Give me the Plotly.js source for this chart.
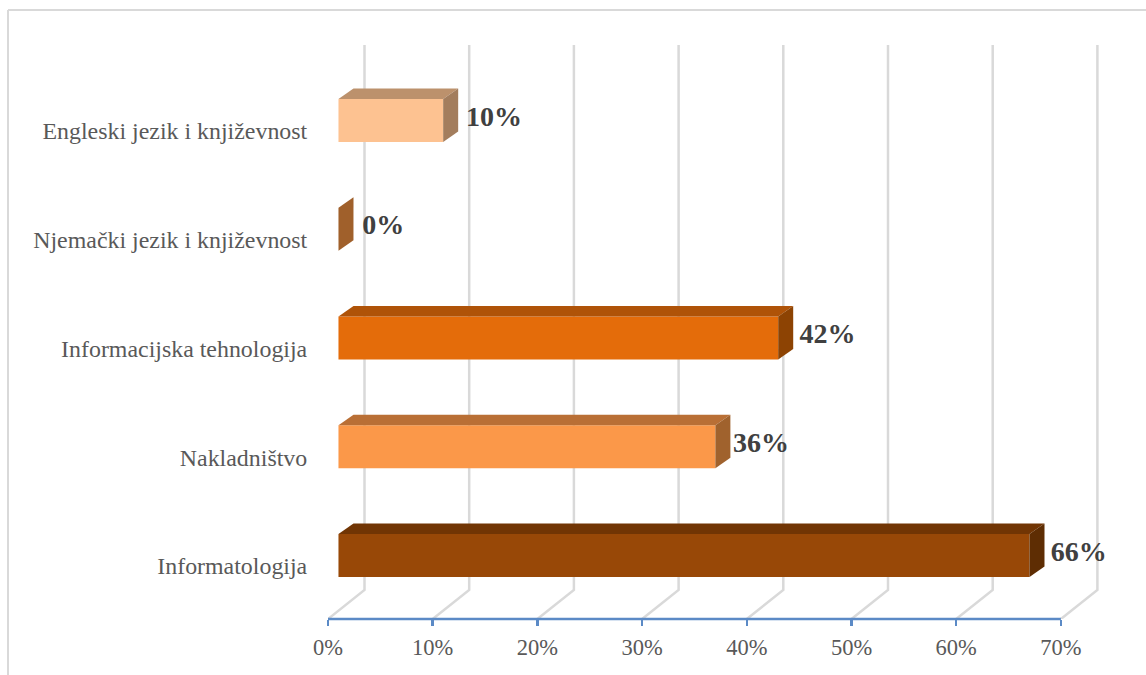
<!DOCTYPE html>
<html>
<head>
<meta charset="utf-8">
<script src="https://cdn.plot.ly/plotly-3.0.1.min.js"></script>
<style>html,body{margin:0;padding:0;background:#fff}#chart{width:1146px;height:675px}</style>
</head>
<body>
<div id="chart"></div>
<script>
// Data (bottom to top)
const categories = ["Informatologija", "Nakladništvo", "Informacijska tehnologija", "Njemački jezik i književnost", "Engleski jezik i književnost"];
const values = [66, 36, 42, 0, 10];
const valueLabels = ["66%", "36%", "42%", "0%", "10%"];
const tickVals = [0, 10, 20, 30, 40, 50, 60, 70];
const tickLabels = ["0%", "10%", "20%", "30%", "40%", "50%", "60%", "70%"];

// Styles
const frontColors = ["#984807", "#FB9849", "#E46C0A", "#A5632B", "#FDC291"];
const topColors = ["#713504", "#B96F35", "#AF5308", "#A5632B", "#BC916C"];
const sideColors = ["#5E2D03", "#A0622D", "#8D4303", "#A0602B", "#A37D5D"];
const labelNudge = [0.6, 0.25, 0.6, 0.85, 0.75];

// Geometry in axis units (1 x unit = 10.47 px, 1 y unit = 108.75 px)
const ML = 328, MT = 45, PW = 772, PH = 574;
const xMax = PW / 10.47, yUnit = 108.75;
const yMin = -(619 - 566) / yUnit, yMax = yMin + PH / yUnit;
const barBase = 1.0, barLift = 10.5 / yUnit, barH = 43 / yUnit;
const depthX = 15 / 10.47, depthY = 10.5 / yUnit;
const wallX = 36.5 / 10.47, wallY = 29 / yUnit;

const pos = categories.map((_, i) => i);
const centers = pos.map(i => i + barLift);
const traces = [];

// Front faces
traces.push({
  type: "bar", orientation: "h", x: values, y: centers, base: barBase, width: barH,
  marker: { color: frontColors, line: { width: 0 } }, hoverinfo: "skip", showlegend: false
});

// Top and side faces derived from each value
values.forEach((v, i) => {
  const t = centers[i] + barH / 2, b = centers[i] - barH / 2, l = barBase, r = barBase + v;
  if (v > 0) {
    traces.push({
      type: "scatter", mode: "lines", fill: "toself", fillcolor: topColors[i], line: { width: 0 },
      x: [l, r, r + depthX, l + depthX, l], y: [t, t, t + depthY, t + depthY, t],
      hoverinfo: "skip", showlegend: false
    });
  }
  traces.push({
    type: "scatter", mode: "lines", fill: "toself", fillcolor: sideColors[i], line: { width: 0 },
    x: [r, r + depthX, r + depthX, r, r], y: [t, t + depthY, b + depthY, b, t],
    hoverinfo: "skip", showlegend: false
  });
});

// Value labels
traces.push({
  type: "scatter", mode: "text", cliponaxis: false,
  x: values.map((v, i) => barBase + v + depthX + labelNudge[i]),
  y: centers.map(c => c + 2 / yUnit),
  text: valueLabels, textposition: "middle right",
  textfont: { family: "Liberation Serif, serif", size: 28, color: "#404040", weight: "bold" },
  hoverinfo: "skip", showlegend: false
});

// Wall gridlines, floor lines, axis line and outer frame
const shapes = tickVals.map(t => ({
  type: "path", layer: "below", xref: "x", yref: "y",
  path: `M ${t} ${yMin} L ${t + wallX} ${yMin + wallY} L ${t + wallX} ${yMax}`,
  line: { color: "#D9D9D9", width: 2.5 }
}));
shapes.push({
  type: "line", layer: "above", xref: "x", yref: "paper",
  x0: tickVals[0], x1: tickVals[tickVals.length - 1], y0: 0, y1: 0,
  line: { color: "#5B8AC6", width: 2.5 }
});
const px = p => (p - ML) / PW, py = p => 1 - (p - MT) / PH;
shapes.push({ type: "line", xref: "paper", yref: "paper", x0: px(8), x1: px(1146), y0: py(10), y1: py(10), line: { color: "#D9D9D9", width: 2 } });
shapes.push({ type: "line", xref: "paper", yref: "paper", x0: px(8), x1: px(8), y0: py(10), y1: py(675), line: { color: "#D9D9D9", width: 2 } });

const layout = {
  width: 1146, height: 675,
  margin: { l: ML, t: MT, r: 1146 - ML - PW, b: 675 - MT - PH, pad: 0 },
  paper_bgcolor: "#fff", plot_bgcolor: "rgba(0,0,0,0)",
  showlegend: false, shapes: shapes, barmode: "overlay",
  font: { family: "Liberation Serif, serif", color: "#595959", size: 21 },
  xaxis: {
    range: [0, xMax], autorange: false, tickmode: "array", tickvals: tickVals, ticktext: tickLabels,
    showgrid: false, zeroline: false, showline: false, ticks: "outside", ticklen: 6, tickwidth: 2.5,
    ticklabelstandoff: 2,
    tickcolor: "#5B8AC6", tickfont: { family: "Liberation Serif, serif", size: 22.5, color: "#595959" }
  },
  yaxis: {
    range: [yMin, yMax], autorange: false, tickmode: "array", tickvals: pos, ticktext: categories,
    showgrid: false, zeroline: false, showline: false, ticks: "outside", ticklen: 15, tickwidth: 0,
    tickcolor: "rgba(0,0,0,0)", tickfont: { family: "Liberation Serif, serif", size: 23.9, color: "#595959" }
  }
};
Plotly.newPlot("chart", traces, layout, { displayModeBar: false, staticPlot: true });
</script>
</body>
</html>
